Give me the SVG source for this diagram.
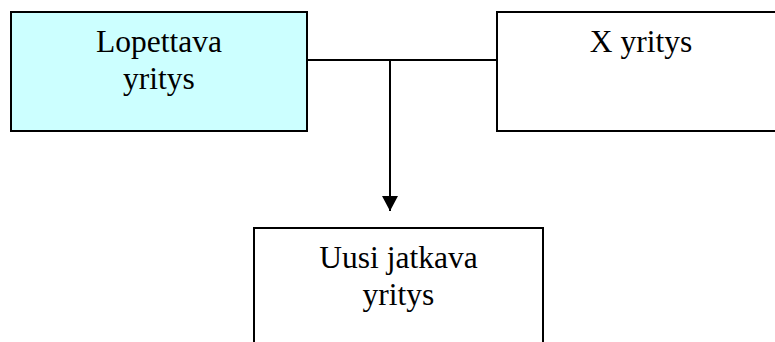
<svg xmlns="http://www.w3.org/2000/svg" width="775" height="342" viewBox="0 0 775 342">
  <defs>
    <style>
      .box { stroke: #000; stroke-width: 2; }
      .lbl { font-family: "Liberation Serif", "Times New Roman", serif; font-size: 31.5px; fill: #000; text-anchor: middle; }
      .wire { stroke: #000; stroke-width: 2; fill: none; }
    </style>
    <marker id="arrow" markerWidth="15" markerHeight="16" refX="15" refY="8" orient="auto" markerUnits="userSpaceOnUse">
      <path d="M0,0 L15,8 L0,16 Z" fill="#000"/>
    </marker>
  </defs>
  <rect width="775" height="342" fill="#fff"/>

  <g id="connectors">
    <path class="wire" d="M307,60 H497"/>
    <path class="wire" d="M390,60 V211" marker-end="url(#arrow)"/>
  </g>

  <g id="lopettava">
    <rect class="box" x="11" y="12" width="296" height="119" fill="#ccffff"/>
    <text class="lbl" x="159" y="52">Lopettava</text>
    <text class="lbl" x="159" y="89">yritys</text>
  </g>

  <g id="x-yritys">
    <rect class="box" x="497" y="12" width="290" height="119" fill="#fff"/>
    <text class="lbl" x="641" y="52">X yritys</text>
  </g>

  <g id="uusi">
    <rect class="box" x="254" y="228" width="289" height="130" fill="#fff"/>
    <text class="lbl" x="398.5" y="268">Uusi jatkava</text>
    <text class="lbl" x="398.5" y="305">yritys</text>
  </g>
</svg>
